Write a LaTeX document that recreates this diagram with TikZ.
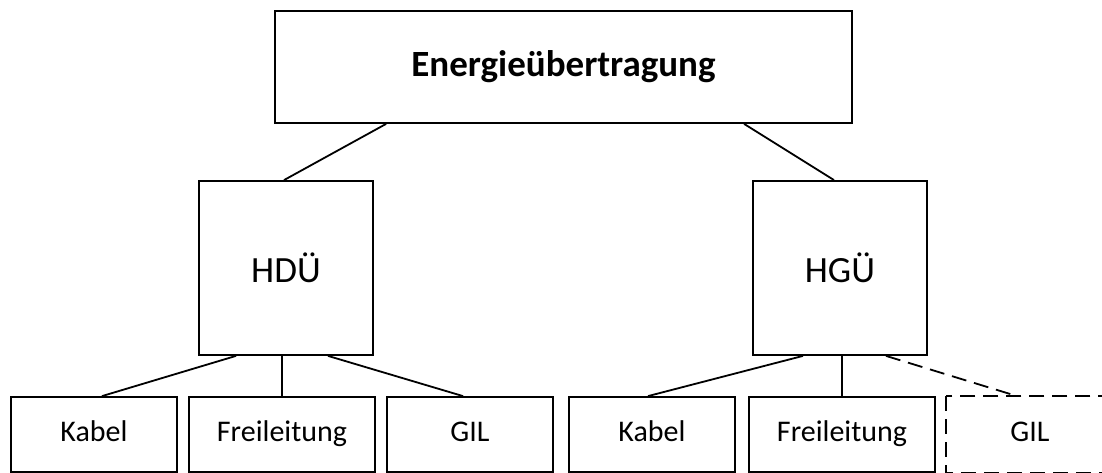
\documentclass[tikz,border=0pt]{standalone}
\usepackage{fontspec}
\setmainfont{Carlito}
\usetikzlibrary{calc}
\begin{document}
\begin{tikzpicture}[x=1pt,y=-1pt,
  box/.style={draw=black, line width=1.8pt, inner sep=0pt, anchor=center},
  topbox/.style={box, minimum width=577pt, minimum height=112pt, font=\fontsize{37}{44}\selectfont\bfseries},
  midbox/.style={box, minimum width=174pt, minimum height=174pt, font=\fontsize{37}{44}\selectfont},
  leafbox/.style={box, minimum width=166pt, minimum height=75pt, text height=21pt, text depth=7pt, font=\fontsize{30}{36}\selectfont},
  wideleaf/.style={leafbox, minimum width=186pt},
  link/.style={draw=black, line width=1.8pt},
  optlink/.style={link, dash pattern=on 15pt off 8pt}
]
\clip (0,0) rectangle (1102,473);
\fill[white] (0,0) rectangle (1102,473);

\node[topbox] (top) at (563.5,67) {Energieübertragung};
\node[midbox] (hdu) at (286,268) {HDÜ};
\node[midbox] (hgu) at (840,268) {HGÜ};

\node[leafbox] (k1) at (94,434.5) {Kabel};
\node[wideleaf] (f1) at (282,434.5) {Freileitung};
\node[leafbox] (g1) at (470,434.5) {GIL};
\node[leafbox] (k2) at (652,434.5) {Kabel};
\node[wideleaf] (f2) at (842,434.5) {Freileitung};
\node[leafbox, draw=none] (g2) at (1030,434.5) {GIL};
\draw[optlink] (g2.north west) rectangle (g2.south east);

\draw[link] ($(top.south west)+(112,0)$) -- ($(hdu.north)+(-2,0)$);
\draw[link] ($(top.south west)+(470,0)$) -- ($(hgu.north)+(-6,0)$);

\draw[link] ($(hdu.south)+(-50,0)$) -- ($(k1.north)+(8,0)$);
\draw[link] (f1.north |- hdu.south) -- (f1.north);
\draw[link] ($(hdu.south)+(42,0)$) -- ($(g1.north)+(-7,0)$);

\draw[link] ($(hgu.south)+(-37,0)$) -- ($(k2.north)+(-4,0)$);
\draw[link] (f2.north |- hgu.south) -- (f2.north);
\draw[optlink] ($(hgu.south)+(46,0)$) -- ($(g2.north)+(-13,0)$);
\end{tikzpicture}
\end{document}
